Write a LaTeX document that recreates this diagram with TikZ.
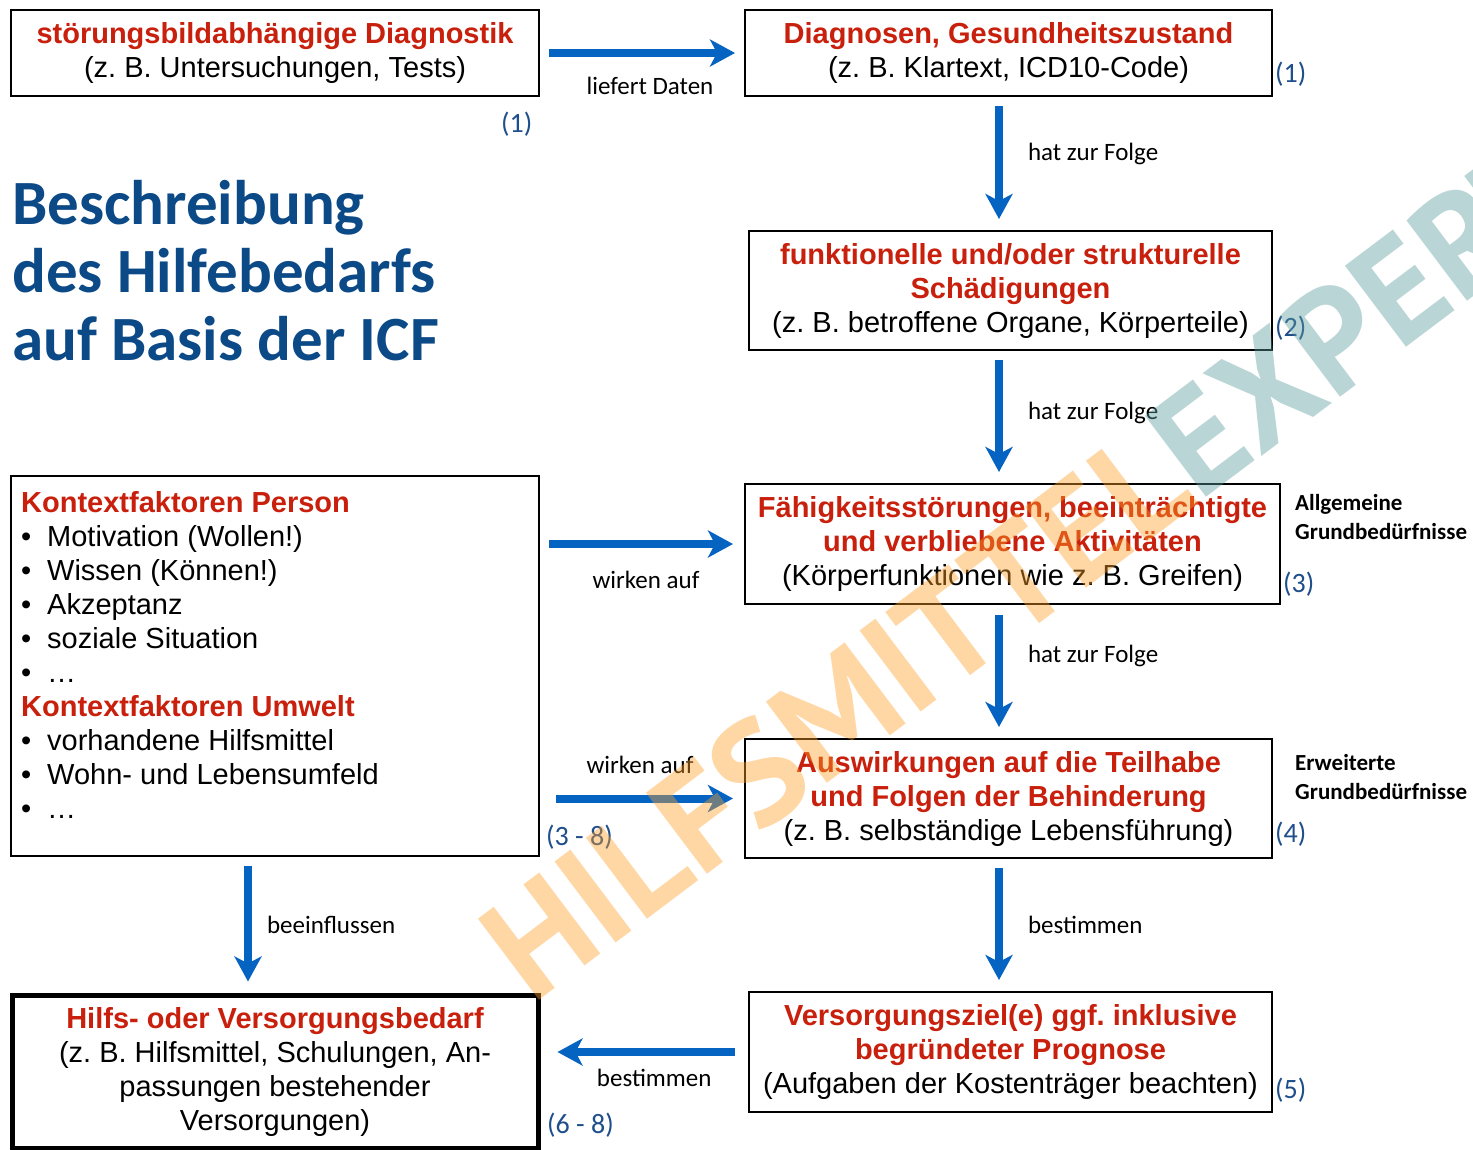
\documentclass[tikz,border=0pt]{standalone}
\usepackage{fontspec}
\setmainfont{Liberation Sans}
\newfontfamily\carlito{Carlito}
\newfontfamily\wmfont{PT Sans}
\usetikzlibrary{arrows.meta,calc,positioning}
\frenchspacing

\definecolor{arrowblue}{RGB}{5,99,193}
\definecolor{boxred}{RGB}{200,32,12}
\definecolor{titleblue}{RGB}{11,74,135}
\definecolor{numblue}{RGB}{31,78,140}
\definecolor{wmorange}{RGB}{255,160,40}
\definecolor{wmteal}{RGB}{90,155,155}

\newcommand{\listdot}{\makebox[26pt][l]{\textbullet}}
\newcommand{\headline}[1]{\textcolor{boxred}{\textbf{#1}}}

\tikzset{
  box/.style={draw, line width=2pt, align=center, inner sep=0pt,
    font=\fontsize{29}{34}\selectfont,
    execute at begin node=\rule{0pt}{27pt}},
  flow/.style={draw=arrowblue, line width=8pt,
    -{Stealth[length=25pt,width=27pt,inset=7pt]},
    shorten <=9pt, shorten >=11pt},
  lbl/.style={font=\carlito\fontsize{25}{30}\selectfont, inner sep=0pt},
  num/.style={font=\carlito\fontsize{28}{32}\selectfont, text=numblue,
    inner sep=0pt, anchor=west},
  side/.style={font=\carlito\bfseries\fontsize{23}{29}\selectfont,
    align=left, inner sep=0pt, anchor=west}
}

\begin{document}
\begin{tikzpicture}[x=1pt, y=-1pt]
\path[use as bounding box, fill=white] (0,0) rectangle (1473,1149);

%%%%%%%%%%%%%%%%% title
\node[anchor=west, align=left, inner sep=0pt, text=titleblue,
  font=\carlito\bfseries\fontsize{63}{68}\selectfont] (title) at (12,271)
  {Beschreibung\\des Hilfebedarfs\\auf Basis der ICF};

%%%%%%%%%%%%%%%%% right column
\node[box, minimum width=528pt, minimum height=86pt] (stoer) at (275,53)
  {\headline{störungsbildabhängige Diagnostik}\\(z. B. Untersuchungen, Tests)};
\node[box, minimum width=527pt, minimum height=86pt] (diag) at (1008.5,53)
  {\headline{Diagnosen, Gesundheitszustand}\\(z. B. Klartext, ICD10-Code)};
\node[box, minimum width=523pt, minimum height=119pt] (schaed) at (1010.5,290.5)
  {\headline{funktionelle und/oder strukturelle}\\\headline{Schädigungen}\\(z. B. betroffene Organe, Körperteile)};
\node[box, minimum width=535pt, minimum height=120pt] (dys) at (1012.5,544)
  {\headline{Fähigkeitsstörungen, beeinträchtigte}\\\headline{und verbliebene Aktivitäten}\\(Körperfunktionen wie z. B. Greifen)};
\node[box, minimum width=527pt, minimum height=119pt] (folgen) at (1008.5,798.5)
  {\headline{Auswirkungen auf die Teilhabe}\\\headline{und Folgen der Behinderung}\\(z. B. selbständige Lebensführung)};
\node[box, minimum width=523pt, minimum height=120pt] (ziel) at (1010.5,1052)
  {\headline{Versorgungsziel(e) ggf. inklusive}\\\headline{begründeter Prognose}\\(Aufgaben der Kostenträger beachten)};

%%%%%%%%%%%%%%%%% left column
\node[draw, line width=2pt, minimum width=528pt, minimum height=380pt] (kontext) at (275,666) {};
\node[anchor=north west, align=left, inner sep=0pt,
  font=\fontsize{29}{34}\selectfont] (kontexttext) at (21,491)
  {\headline{Kontextfaktoren Person}\\
   \listdot Motivation (Wollen!)\\
   \listdot Wissen (Können!)\\
   \listdot Akzeptanz\\
   \listdot soziale Situation\\
   \listdot …\\
   \headline{Kontextfaktoren Umwelt}\\
   \listdot vorhandene Hilfsmittel\\
   \listdot Wohn- und Lebensumfeld\\
   \listdot …};
\node[box, line width=5pt, minimum width=526pt, minimum height=153pt] (bedarf) at (275,1071.5)
  {\headline{Hilfs- oder Versorgungsbedarf}\\(z. B. Hilfsmittel, Schulungen, An-\\passungen bestehender\\Versorgungen)};

%%%%%%%%%%%%%%%%% numbers and side notes
\node[num] (n1a) at (501,124) {(1)};
\node[num] (n1b) at (1275,74) {(1)};
\node[num] (n2) at (1275,328) {(2)};
\node[num] (n3) at (1283,584) {(3)};
\node[num] (n4) at (1275,834) {(4)};
\node[num] (n5) at (1275,1090) {(5)};
\node[num] (n38) at (546,837) {(3 - 8)};
\node[num] (n68) at (547,1125) {(6 - 8)};
\node[side] (allg) at (1295,517) {Allgemeine\\Grundbedürfnisse};
\node[side] (erw) at (1295,777) {Erweiterte\\Grundbedürfnisse};

%%%%%%%%%%%%%%%%% arrows
\coordinate (axis) at (999,0);
\coordinate (laxis) at (248,0);
\draw[flow, shorten >=9pt] (stoer) -- (diag) node[lbl, midway, below=20pt, xshift=8pt] {liefert Daten};
\draw[flow] (diag.south -| axis) -- (schaed.north -| axis) node[lbl, pos=0.43, right=25pt] {hat zur Folge};
\draw[flow] (schaed.south -| axis) -- (dys.north -| axis) node[lbl, pos=0.47, right=25pt] {hat zur Folge};
\draw[flow, shorten <=10pt] (dys.south -| axis) -- (folgen.north -| axis) node[lbl, pos=0.385, right=25pt] {hat zur Folge};
\draw[flow] (folgen.south -| axis) -- (ziel.north -| axis) node[lbl, midway, right=25pt] {bestimmen};
\draw[flow] (kontext.east |- dys) -- (dys.west) node[lbl, midway, below=23pt, xshift=4pt] {wirken auf};
\draw[flow, shorten <=16pt] (kontext.east |- folgen) -- (folgen.west) node[lbl, midway, above=21pt, xshift=-2pt] {wirken auf};
\draw[flow, shorten <=13pt, shorten >=17pt] (ziel.west) -- (ziel.west -| bedarf.east) node[lbl, midway, below=13pt, xshift=10pt] {bestimmen};
\draw[flow] (kontext.south -| laxis) -- (bedarf.north -| laxis) node[lbl, midway, right=15pt] {beeinflussen};

%%%%%%%%%%%%%%%%% watermark
\node[anchor=base west, rotate=37, inner sep=0pt, text opacity=0.42,
  font=\wmfont\bfseries\fontsize{145}{145}\selectfont] (wm) at (532,1006)
  {\textcolor{wmorange}{HILFSMITTEL}\textcolor{wmteal}{EXPERTE}};
\end{tikzpicture}
\end{document}
